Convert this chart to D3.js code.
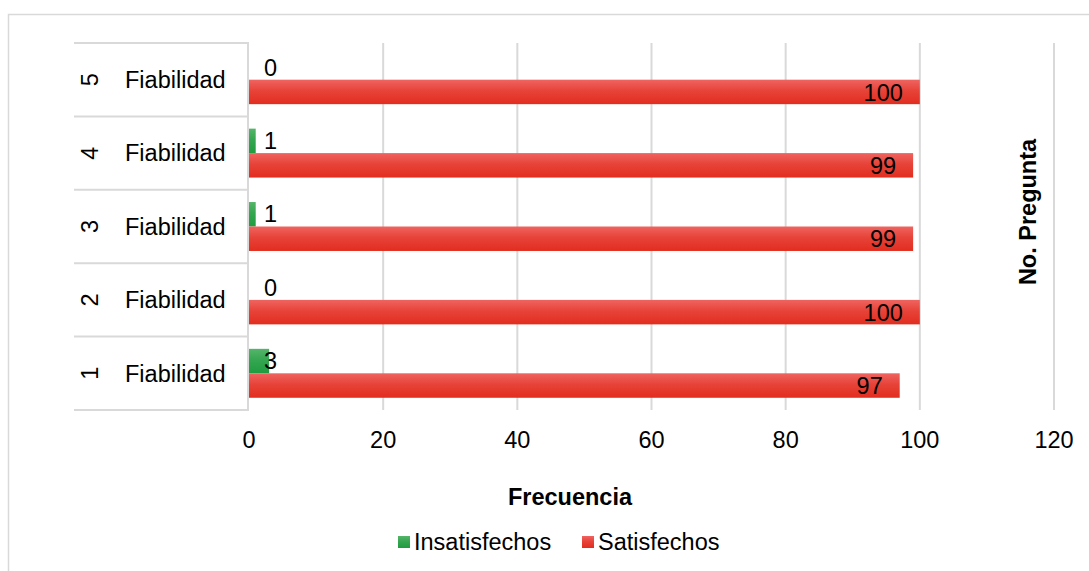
<!DOCTYPE html>
<html>
<head>
<meta charset="utf-8">
<script src="https://cdn.jsdelivr.net/npm/d3@7"></script>
<style>
  body { margin: 0; background: #fff; }
  text { font-family: "Liberation Sans", Arial, sans-serif; fill: #000; }
</style>
</head>
<body>
<div id="chart"></div>
<script>
// data
let questions = ["1", "2", "3", "4", "5"]
let groupLabel = "Fiabilidad"
let insatisfechos = [3, 0, 1, 1, 0]
let satisfechos = [97, 100, 99, 99, 100]
let xTicks = [0, 20, 40, 60, 80, 100, 120]
let seriesNames = ["Insatisfechos", "Satisfechos"]

var W = 1089, H = 571
var margin = {left: 249, right: 35, top: 43, bottom: 161}
var fs = "23.5px"

var svg = d3.select("#chart").append("svg")
  .attr("width", W).attr("height", H)

var defs = svg.append("defs")
function grad(id, top, bottom){
  var g = defs.append("linearGradient").attr("id", id)
    .attr("x1", 0).attr("y1", 0).attr("x2", 0).attr("y2", 1)
  g.append("stop").attr("offset", "0%").attr("stop-color", top)
  g.append("stop").attr("offset", "45%").attr("stop-color", d3.interpolateRgb(top, bottom)(0.6))
  g.append("stop").attr("offset", "100%").attr("stop-color", bottom)
}
grad("gRed", "#ef6460", "#e22d1f")
grad("gGreen", "#55b56a", "#1f9c40")

// outer chart border (only top/left visible)
svg.append("path")
  .attr("d", `M8.5,${H} L8.5,14.5 L${W},14.5`)
  .attr("fill", "none").attr("stroke", "#d9d9d9").attr("stroke-width", 1.5)

var x = d3.scaleLinear().domain([0, 120]).range([margin.left, W - margin.right])

// questions from bottom (1) to top (5)
var y = d3.scaleBand().domain(questions.slice().reverse())
  .range([margin.top, H - margin.bottom]).paddingInner(0).paddingOuter(0)
var ySub = d3.scaleBand().domain(seriesNames).range([0, y.bandwidth()]).paddingOuter(0.5).paddingInner(0)

// grid
svg.append("g").selectAll("line").data(xTicks.slice(1)).enter().append("line")
  .attr("x1", d => x(d)).attr("x2", d => x(d))
  .attr("y1", margin.top).attr("y2", H - margin.bottom)
  .attr("stroke", "#d9d9d9").attr("stroke-width", 2)

// category axis: separators
var bounds = questions.map(q => y(q)).concat([H - margin.bottom])
svg.append("g").selectAll("line").data(bounds).enter().append("line")
  .attr("x1", 74).attr("x2", margin.left)
  .attr("y1", d => d).attr("y2", d => d)
  .attr("stroke", "#d9d9d9").attr("stroke-width", 2)
svg.append("line")
  .attr("x1", margin.left - 1).attr("x2", margin.left - 1)
  .attr("y1", margin.top).attr("y2", H - margin.bottom)
  .attr("stroke", "#d9d9d9").attr("stroke-width", 2)

// category labels
var cat = svg.append("g").selectAll("g").data(questions).enter().append("g")
  .attr("transform", d => `translate(0,${y(d) + y.bandwidth() / 2})`)
cat.append("text")
  .attr("transform", "translate(98,0) rotate(-90)")
  .attr("text-anchor", "middle")
  .style("font-size", fs)
  .text(d => d)
cat.append("text")
  .attr("x", 125).attr("dy", "0.35em")
  .style("font-size", fs)
  .text(groupLabel)

// bars
var rows = questions.map((q, i) => ({q: q, ins: insatisfechos[i], sat: satisfechos[i]}))

svg.append("g").selectAll("rect").data(rows).enter().append("rect")
  .attr("x", x(0))
  .attr("y", d => y(d.q) + ySub("Insatisfechos"))
  .attr("width", d => x(d.ins) - x(0))
  .attr("height", ySub.bandwidth())
  .attr("fill", "url(#gGreen)")

svg.append("g").selectAll("rect").data(rows).enter().append("rect")
  .attr("x", x(0))
  .attr("y", d => y(d.q) + ySub("Satisfechos"))
  .attr("width", d => x(d.sat) - x(0))
  .attr("height", ySub.bandwidth())
  .attr("fill", "url(#gRed)")

// data labels
svg.append("g").selectAll("text").data(rows).enter().append("text")
  .attr("x", x(0) + 15)
  .attr("y", d => y(d.q) + ySub("Insatisfechos") + ySub.bandwidth() / 2)
  .attr("dy", "0.35em")
  .style("font-size", fs)
  .text(d => d.ins)

svg.append("g").selectAll("text").data(rows).enter().append("text")
  .attr("x", d => x(d.sat) - 17)
  .attr("y", d => y(d.q) + ySub("Satisfechos") + ySub.bandwidth() / 2)
  .attr("dy", "0.37em")
  .attr("text-anchor", "end")
  .style("font-size", fs)
  .text(d => d.sat)

// x axis tick labels
svg.append("g").selectAll("text").data(xTicks).enter().append("text")
  .attr("x", d => x(d)).attr("y", 448)
  .attr("text-anchor", "middle")
  .style("font-size", fs)
  .text(d => d)

// axis titles
svg.append("text")
  .attr("x", 570).attr("y", 505)
  .attr("text-anchor", "middle")
  .style("font-size", fs).style("font-weight", "bold")
  .text("Frecuencia")

svg.append("text")
  .attr("transform", "translate(1036,212) rotate(-90)")
  .attr("text-anchor", "middle")
  .style("font-size", fs).style("font-weight", "bold")
  .text("No. Pregunta")

// legend
var legend = svg.append("g")
var lx = [398, 582]
seriesNames.forEach((s, i) => {
  legend.append("rect")
    .attr("x", lx[i]).attr("y", 536).attr("width", 12).attr("height", 12)
    .attr("fill", i == 0 ? "url(#gGreen)" : "url(#gRed)")
  legend.append("text")
    .attr("x", lx[i] + 16).attr("y", 550)
    .style("font-size", fs)
    .text(s)
})
</script>
</body>
</html>
